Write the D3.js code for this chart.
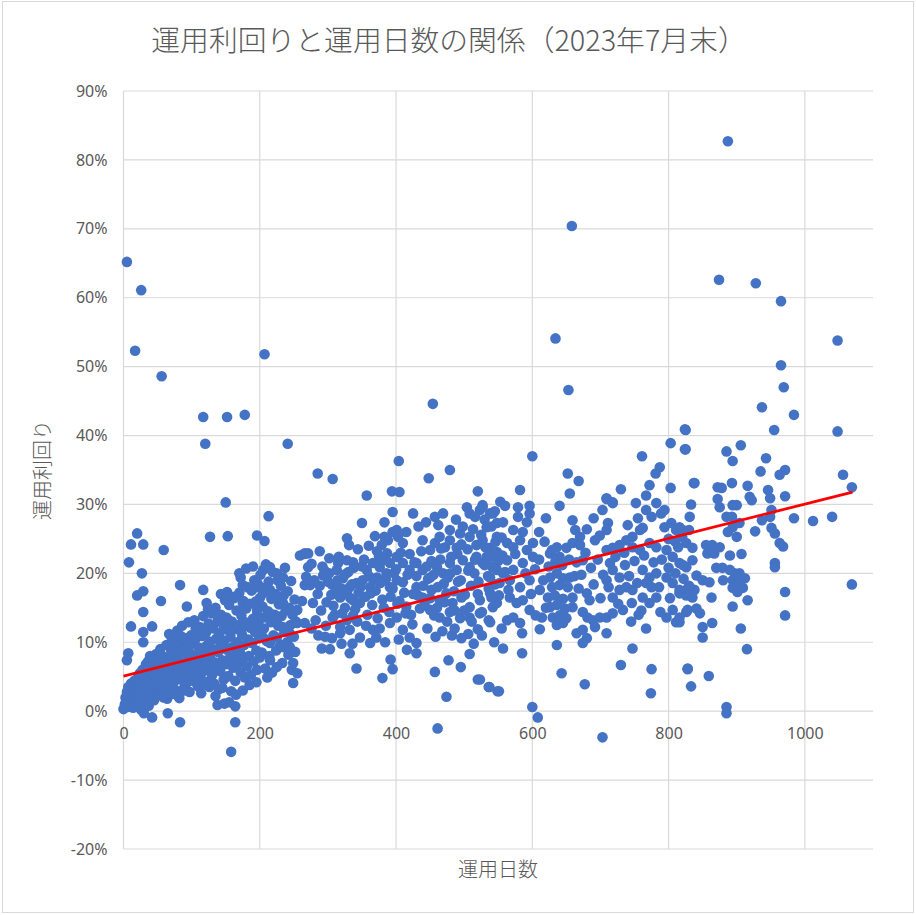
<!DOCTYPE html>
<html>
<head>
<meta charset="utf-8">
<script src="https://cdn.jsdelivr.net/npm/d3@7"></script>
<style>
  body { margin: 0; background: #fff; }
  text { fill: #595959; }
</style>
</head>
<body>
<div id="chart"></div>
<script>
// axis ticks
const xTicks = [0, 200, 400, 600, 800, 1000]
const yTicks = [-20, -10, 0, 10, 20, 30, 40, 50, 60, 70, 80, 90]

// [days, yield %]
const outliers = [
  [5,65.2],[26,61.1],[17,52.3],[56,48.6],[207,51.8],[117,42.7],[152,42.7],[178,43.0],[120,38.8],[241,38.8],
  [150,30.3],[213,28.3],[20,25.8],[11,24.2],[29,24.2],[59,23.4],[127,25.3],[153,25.4],[196,25.5],[207,24.7],
  [8,21.6],[27,20.0],[285,34.5],[307,33.7],[404,36.3],[357,31.3],[394,31.9],[405,31.8],[448,33.8],[479,35.0],
  [454,44.6],[634,54.1],[658,70.4],[653,46.6],[887,82.7],[874,62.6],[928,62.1],[965,59.5],[1048,53.8],[965,50.2],
  [969,47.0],[937,44.1],[984,43.0],[955,40.8],[1048,40.6],[1056,34.3],[1069,32.5],[1069,18.4],[461,-2.5],[474,2.1],
  [600,0.6],[608,-0.9],[703,-3.8],[885,0.6],[885,-0.3],[158,-5.9],[164,-1.6],[83,-1.6],[42,-0.9],[65,-0.3],[164,0.7]
]

const earlyDays = [
  [0,0.3],[2,1.0],[3,2.0],[4,1.5],[5,2.8],[6,0.6],[7,3.5],[8,2.2],[9,1.2],[10,3.0],[11,4.0],[12,2.6],[13,1.8],
  [14,0.5],[15,3.6],[16,4.4],[17,2.9],[18,1.4],[19,3.9],[20,2.3],[5,7.4],[7,8.4],[11,12.3],
  [21,4.8],[22,3.1],[23,1.0],[24,5.5],[25,2.0],[26,0.2],[27,4.1],[28,6.0],[29,3.2],[30,-0.3],[31,5.0],[32,1.5],
  [33,6.8],[34,2.6],[35,4.5],[36,7.2],[37,0.8],[38,3.8],[39,5.8],[40,2.2],[41,6.5],[43,4.3],[44,7.8],[45,1.6],
  [46,5.3],[47,3.0],[48,8.3],[49,6.2],[50,4.0],[51,2.7],[52,7.0],[53,5.1],[54,9.0],[55,3.6],[56,6.4],[57,8.0],
  [58,4.7],[59,2.0],[60,5.8],[20,16.8],[29,17.4],[29,14.4],[29,11.5],[29,10.0],[42,12.3],[39,8.0],[55,16.0],
  [61,3.1],[62,6.9],[63,9.6],[64,1.8],[65,4.9],[66,7.6],[67,11.2],[68,3.8],[69,5.9],[70,8.7],[71,2.5],[72,10.3],
  [73,6.4],[74,4.2],[75,9.1],[76,7.3],[77,3.0],[78,5.4],[79,11.7],[80,8.1],[81,6.0],[82,1.9],[83,9.9],[84,4.6],
  [85,7.0],[86,12.4],[87,5.2],[88,8.8],[89,3.4],[90,10.6],[91,6.7],[92,4.0],[93,9.4],[94,7.7],[95,12.9],[96,5.6],
  [97,2.8],[98,8.4],[99,11.0],[100,6.2],[101,9.8],[102,4.4],[103,7.4],[104,13.2],[105,10.4],[106,5.0],[107,8.0],
  [108,11.6],[109,3.6],[110,6.8],[111,9.2],[112,12.2],[113,4.8],[114,7.9],[115,10.9],[116,5.7],[117,13.8],[118,8.6],
  [119,3.9],[120,6.6],[121,11.4],[122,9.5],[123,7.1],[124,4.3],[125,12.7],[126,10.1],[127,6.0],[128,8.3],[129,14.2],
  [130,5.2],[64,5.5],[70,4.4],[76,10.0],[84,10.9],[90,3.0],[98,5.3],[106,12.0],[114,2.6],[120,9.0],[126,3.5],
  [72,7.9],[80,2.2],[88,6.1],[96,9.7],[104,5.9],[112,8.9],[118,11.8],[124,14.8],
  [83,18.3],[93,15.2],[117,17.6],[122,15.7],[152,17.3],[162,16.4],[175,15.7],[172,19.4],[175,18.3],[71,10.6],[152,13.4]
]

const blobDays = [
  [131,9.0],[132,12.0],[133,4.0],[134,7.1],[135,15.0],[136,10.5],[137,6.2],[138,13.1],[139,8.6],[140,3.2],
  [141,11.3],[142,5.8],[143,14.0],[144,9.7],[145,7.4],[146,12.6],[147,4.6],[148,10.2],[149,16.1],[150,6.8],
  [151,13.6],[152,8.9],[153,11.8],[154,5.1],[155,15.4],[156,7.7],[157,10.8],[158,2.9],[159,13.0],[160,9.3],
  [161,6.3],[162,16.6],[163,11.9],[164,4.4],[165,8.2],[166,14.6],[167,10.0],[168,6.9],[169,12.5],[170,17.2],
  [171,8.5],[172,5.6],[173,13.9],[174,11.1],[175,7.6],[176,16.0],[177,9.6],[178,4.9],[179,12.9],[180,14.9],
  [181,6.5],[182,18.0],[183,10.4],[184,8.0],[185,15.6],[186,12.1],[187,5.3],[188,17.5],[189,9.9],[190,13.4],
  [191,7.2],[192,19.0],[193,11.5],[194,15.9],[195,8.8],[196,6.0],[197,18.5],[198,12.8],[199,10.6],[200,16.4],
  [135,2.2],[145,3.4],[155,1.3],[165,2.4],[175,3.0],[185,3.8],[195,4.2],[143,17.0],[170,20.0],[180,20.7],
  [190,21.0],[138,0.9],[148,1.1],[142,9.4],[152,5.0],[166,7.3],[176,12.3],[186,10.0],[196,14.0],
  [201,19.8],[203,8.5],[204,15.2],[206,12.0],[207,17.9],[208,6.2],[209,21.3],[210,10.2],[212,14.5],[213,18.8],
  [214,8.0],[216,12.9],[217,16.3],[218,5.6],[219,20.2],[220,11.0],[222,14.0],[223,17.0],[224,8.8],[226,19.0],
  [227,12.4],[228,15.5],[230,9.6],[231,18.2],[232,13.8],[233,7.0],[235,16.8],[236,11.5],[237,20.8],[238,14.6],
  [240,10.0],[241,17.4],[242,8.2],[243,15.0],[245,12.5],[246,18.9],[247,6.0],[248,14.0],[250,10.8],[251,16.2],
  [252,8.6],[253,13.0],[205,20.5],[215,20.9],[225,20.0],[234,19.4],[196,18.0],[205,17.1],[215,17.6],[225,16.5],
  [234,15.7],[196,14.7],[205,13.6],[215,14.2],[225,13.2],[234,12.2],[196,11.8],[205,10.7],[215,9.9],[225,10.7],
  [234,9.3],[244,9.3],[200,7.8],[215,7.4],[225,6.4],[211,4.9],[249,7.0],[255,5.5],[249,4.1],[244,11.3],
  [255,12.8],[255,14.7]
]

const midDays = [
  [259,22.6],[271,22.9],[266,22.9],[271,20.9],[293,19.7],[306,18.4],[266,18.3],[274,18.3],[278,15.7],[298,15.8],
  [266,12.8],[291,9.1],[303,9.0],[332,8.4],[342,6.2],[380,4.8],[392,7.5],[395,6.1],[416,8.9],[430,8.4],
  [457,5.7],[477,7.4],[495,6.4],[508,8.3],[520,4.6],[536,3.5],[549,2.9],[482,11.0],[520,11.9],[536,13.2],
  [350,27.3],[383,27.4],[395,28.9],[425,28.7],[328,25.1],[331,24.1],[369,25.4],[265,22.8],
  [315,21.5],[328,21.9],[337,21.6],[313,20.5],[322,19.3],[332,18.0],[342,18.6],[351,19.0],[318,16.5],[328,17.1],
  [337,16.1],[347,15.7],[307,13.6],[318,12.2],[328,13.2],[337,13.9],[306,10.6],[318,11.3],[332,11.8],[347,10.7],
  [362,18.0],[372,19.4],[381,19.0],[391,18.0],[401,19.0],[357,20.5],[366,21.5],[376,20.9],[386,20.0],[381,21.9],
  [391,21.5],[401,22.4],[410,21.5],[420,20.5],[379,24.1],[388,24.8],[401,26.3],[410,24.4],[395,26.0],[403,25.3],
  [383,25.3],[439,24.8],[450,23.4],[457,24.4],[464,25.3],[472,23.8],[479,24.8],[489,23.7],[457,28.2],[469,28.7],
  [479,26.3],[494,25.8],[504,29.6],[508,28.7],[516,28.2],[523,29.2],[527,29.9],[538,28.7],[548,27.3],[520,31.9],
  [508,25.3],[518,24.1],[527,24.8],[538,23.7],[548,23.1],
  [430,21.5],[439,20.5],[450,19.4],[460,20.9],[469,20.0],[479,21.5],[489,20.5],[498,21.9],[508,20.9],[518,22.4],
  [527,21.5],[538,22.4],[548,20.5],[430,18.0],[439,16.5],[452,17.6],[464,16.1],[474,17.1],[483,15.7],[496,16.5],
  [508,15.1],[523,16.1],[538,17.1],[548,15.7],[450,14.7],[464,13.6],[479,14.4],[494,13.5],[508,13.6],[523,14.2],
  [538,12.9],[391,12.8],[401,13.6],[410,11.8],[420,10.7],[430,9.9],[366,11.8],[371,10.7],[362,9.9],
  [285,17.0],[290,14.6],[295,20.4],[300,18.8],[305,16.9],[310,14.0],[314,19.0],[320,17.8],[325,15.0],[330,20.2],
  [335,18.4],[340,14.8],[345,17.2],[350,21.0],[355,16.6],[360,19.6],[365,15.4],[370,17.5],[375,22.5],[380,16.2],
  [385,19.2],[390,14.4],[395,17.8],[400,20.6],[405,16.0],[410,18.7],[415,15.2],[420,22.8],[425,17.0],[430,19.6],
  [435,14.9],[440,18.2],[445,21.0],[450,16.4],[455,19.8],[460,15.0],[465,22.0],[470,18.5],[475,13.0],[480,20.0],
  [485,17.4],[490,22.8],[495,19.0],[500,14.6],[505,23.5],[510,18.2],[515,20.0],[520,17.0],[525,25.6],[530,21.2],
  [535,19.6],[540,26.8],[545,18.4],[550,21.8],[555,25.2],[560,20.2],
  [262,16.0],[268,19.5],[276,21.4],[282,13.2],[288,18.2],[292,21.0],[297,12.4],[302,20.0],[308,15.3],[312,17.6],
  [316,22.4],[321,14.2],[326,19.9],[333,16.4],[338,20.8],[343,13.0],[348,18.0],[353,22.0],[358,14.0],[363,17.1],
  [367,19.0],[373,13.5],[377,18.6],[382,15.0],[387,22.9],[392,16.6],[397,20.0],[402,15.6],[407,23.0],[412,17.2],
  [417,19.8],[422,14.0],[427,21.6],[432,16.8],[437,23.2],[442,15.4],[447,19.2],[452,21.8],[456,13.9],[461,18.0],
  [466,23.6],[471,15.8],[476,19.4],[481,22.4],[486,14.6],[491,18.8],[496,24.2],[501,16.9],[506,20.4],[511,13.0],
  [516,22.0],[521,18.8],[526,14.4],[531,23.8],[536,17.8],[541,21.0],[546,24.6],[551,16.8],[556,22.6],[344,23.5],
  [360,24.0],[372,23.2],[415,26.0],[433,26.8],[444,27.4],[462,27.0],[488,27.8],[498,26.8],[513,26.4],[530,27.8],
  [545,29.0],[553,30.4],[288,23.2],[302,22.2],[280,19.0],[276,12.0],[286,11.0],[296,10.8],[320,9.8],[336,9.8],
  [356,12.4],[376,12.0],[384,10.0],[404,10.4],[414,14.2],[424,12.6],[446,12.0],[458,10.8],[468,11.6],[486,12.0],
  [496,10.6],[506,11.2],[514,9.8],[526,11.0],[544,10.0],[555,12.0]
]

const lateDays = [
  [560,29.8],[579,29.6],[596,29.8],[582,32.1],[640,29.8],[652,34.5],[668,33.4],[655,31.6],[600,37.0],
  [527,29.6],[542,28.7],[557,27.4],[572,26.3],[533,26.7],[548,25.3],[563,24.4],[579,28.2],[592,27.4],[596,28.7],
  [572,23.8],[582,24.8],[592,23.4],[601,24.4],[601,22.4],[533,22.4],[548,22.9],[563,21.9],[542,20.9],[557,20.0],
  [572,20.5],[586,21.5],[538,19.4],[552,18.6],[567,19.0],[582,18.0],[596,19.0],[567,16.5],[577,15.7],[586,16.1],
  [596,14.7],[605,13.9],[614,13.6],[563,13.2],[572,13.6],[582,12.8],[540,16.5],[542,15.1],[611,17.6],[626,22.9],
  [636,23.8],[626,19.4],[636,20.0],[645,19.3],[655,19.4],[629,18.0],[640,18.3],[652,18.0],[623,16.5],[633,16.8],
  [645,16.3],[659,16.5],[626,15.1],[636,15.4],[648,14.9],[659,15.1],[630,13.6],[640,13.9],[650,13.5],[636,12.5],
  [645,12.8],[629,23.4],[640,22.4],[650,23.7],[659,24.4],[670,24.1],[659,27.7],[663,26.3],[670,25.3],[674,21.9],
  [665,21.6],[680,17.1],[684,16.1],[674,14.4],[681,13.6],[689,13.2],[699,13.6],[709,13.6],[718,14.2],[665,11.3],
  [674,11.8],[680,10.6],[692,12.2],[674,9.9],[692,24.8],[699,25.5],[709,26.3],[711,27.3],[703,29.2],[709,30.9],
  [718,30.3],[709,23.4],[718,23.7],[728,24.1],[738,24.8],[747,25.3],[758,26.3],[762,26.6],[714,21.5],[718,20.5],
  [728,19.4],[709,19.0],[728,17.6],[738,18.0],[747,17.6],[718,16.5],[746,15.7],[733,14.7],[762,20.5],[772,19.4],
  [782,20.0],[767,18.6],[775,18.0],[762,16.5],[772,15.7],[782,16.5],[747,23.8],[758,23.4],[772,24.4],[782,23.8],
  [767,29.2],[775,28.2],[789,28.7],[782,30.2],[794,29.2],[794,26.7],[804,27.3],[811,26.3],[820,25.3],[830,26.3],
  [797,23.4],[806,22.4],[816,21.5],[826,20.9],[835,21.9],[797,19.4],[806,18.6],[816,17.1],[826,17.6],[835,16.5],
  [806,14.7],[816,13.6],[797,13.6],[811,12.9],[826,14.4],[761,37.0],[803,38.9],[825,38.0],[825,40.8],[781,34.5],
  [787,35.4],[772,32.8],[767,31.3],[730,32.2],[709,30.8],[718,30.2],[752,30.2],[803,32.4],[837,33.1],
  [557,9.1],[585,8.4],[585,11.3],[643,5.5],[636,9.6],[677,3.9],[730,6.7],[747,9.1],[775,6.1],[774,2.6],
  [828,6.1],[833,3.6],[709,11.3],[767,12.0],[611,11.9],[523,4.6],[537,3.5],[551,2.9],
  [824,40.9],[824,38.0],[885,37.7],[906,38.6],[894,36.3],[943,36.7],[935,34.8],[963,34.3],[971,35.0],[838,33.1],
  [872,32.5],[878,32.4],[893,33.1],[916,32.7],[946,32.1],[971,31.2],[919,31.1],[922,30.6],[949,30.9],[872,30.8],
  [875,29.6],[894,29.9],[900,29.9],[833,30.0],[831,28.2],[885,28.2],[893,28.2],[951,29.2],[949,28.2],[937,27.7],
  [984,28.0],[1012,27.6],[1040,28.2],[927,26.1],[951,26.6],[956,25.8],[894,26.7],[904,27.3],[900,25.3],[887,26.0],
  [963,24.4],[968,23.9],[816,26.7],[821,26.3],[826,24.4],[835,23.7],[855,24.1],[864,24.1],[875,23.8],[857,22.9],
  [867,22.9],[890,22.6],[907,22.8],[956,21.5],[956,20.9],[821,21.2],[841,19.7],[850,19.0],[860,18.7],[870,20.8],
  [879,20.8],[890,20.5],[897,20.0],[904,20.0],[912,19.3],[880,19.0],[894,19.0],[901,18.6],[894,17.9],[901,17.3],
  [909,17.9],[971,17.3],[816,17.6],[826,16.8],[838,17.6],[863,16.5],[894,15.2],[916,16.1],[971,13.9],[828,14.7],
  [841,14.9],[846,14.2],[816,12.9],[850,12.2],[850,10.7],[864,12.8],[906,12.0],[915,9.0],[828,6.2],[859,5.1],
  [565,17.6],[575,22.8],[590,20.0],[598,17.0],[604,20.6],[610,22.0],[616,19.0],[620,15.0],[618,24.6],[624,21.0],
  [634,21.8],[644,21.2],[654,22.0],[662,19.6],[668,17.8],[672,19.8],[678,23.0],[686,20.8],[690,18.4],[696,22.0],
  [700,16.4],[704,19.8],[712,18.0],[722,22.4],[726,15.6],[736,21.2],[742,19.6],[750,21.8],[754,18.6],[756,14.0],
  [764,22.6],[778,21.6],[786,18.0],[790,22.0],[800,20.8],[802,16.4],[810,20.0],[814,23.8],[822,19.2],[830,18.2],
  [740,27.0],[755,28.0],[735,23.0],[745,13.0],[760,14.6],[788,14.4],[800,25.0],[810,24.6],[690,28.0],[680,26.4],
  [586,26.0],[610,26.0],[620,28.0]
]

// trend line end points (Excel linear trendline)
const trend = [[0, 5.1], [1070, 31.8]]

const points = outliers.concat(earlyDays, blobDays, midDays, lateDays)

const width = 916, height = 915
const x = d3.scaleLinear().domain([0, 1100]).range([123.5, 873])
const y = d3.scaleLinear().domain([-20, 90]).range([849, 91])

const svg = d3.select('#chart')
    .append('svg')
    .attr('width', width)
    .attr('height', height)

svg.append('rect')
    .attr('x', 2.5).attr('y', 1.5)
    .attr('width', 911).attr('height', 911)
    .attr('fill', '#fff')
    .attr('stroke', '#d9d9d9')

// gridlines
svg.append('g').selectAll('line')
    .data(yTicks)
    .enter().append('line')
    .attr('x1', x(0)).attr('x2', x(1100))
    .attr('y1', d => y(d)).attr('y2', d => y(d))
    .attr('stroke', '#d9d9d9').attr('stroke-width', 1.2)

svg.append('g').selectAll('line')
    .data(xTicks)
    .enter().append('line')
    .attr('x1', d => x(d)).attr('x2', d => x(d))
    .attr('y1', y(90)).attr('y2', y(-20))
    .attr('stroke', '#d9d9d9').attr('stroke-width', 1.2)

const yAxis = d3.axisLeft(y).tickValues(yTicks).tickSize(0).tickPadding(16).tickFormat(d => d + '%')
const xAxis = d3.axisBottom(x).tickValues(xTicks).tickSize(0).tickPadding(16).tickFormat(d3.format('d'))

const gy = svg.append('g')
    .attr('transform', `translate(${x(0)}, 0)`)
    .call(yAxis)
const gx = svg.append('g')
    .attr('transform', `translate(0, ${y(0)})`)
    .call(xAxis)

;[gx, gy].forEach(g => {
    g.select('.domain').remove()
    g.selectAll('text')
        .attr('font-family', '"Noto Sans", sans-serif')
        .attr('font-size', 16)
        .style('fill', '#595959')
})

svg.append('g').selectAll('circle')
    .data(points)
    .enter()
    .append('circle')
    .attr('cx', d => x(d[0]))
    .attr('cy', d => y(d[1]))
    .attr('r', 5.3)
    .attr('fill', '#4472c4')

svg.append('path')
    .datum(trend)
    .attr('d', d3.line().x(d => x(d[0])).y(d => y(d[1])))
    .attr('fill', 'none')
    .attr('stroke', '#ff0000')
    .attr('stroke-width', 2.8)

svg.append('text')
    .attr('x', 449).attr('y', 51)
    .attr('text-anchor', 'middle')
    .attr('font-family', '"Noto Sans CJK JP", sans-serif')
    .attr('font-weight', 300)
    .attr('font-size', 28.8)
    .text('運用利回りと運用日数の関係（2023年7月末）')

svg.append('text')
    .attr('x', 498).attr('y', 877)
    .attr('text-anchor', 'middle')
    .attr('font-family', '"Noto Sans CJK JP", sans-serif')
    .attr('font-weight', 300)
    .attr('font-size', 20)
    .text('運用日数')

svg.append('text')
    .attr('transform', 'translate(50, 470) rotate(-90)')
    .attr('text-anchor', 'middle')
    .attr('font-family', '"Noto Sans CJK JP", sans-serif')
    .attr('font-weight', 300)
    .attr('font-size', 20)
    .text('運用利回り')
</script>
</body>
</html>
